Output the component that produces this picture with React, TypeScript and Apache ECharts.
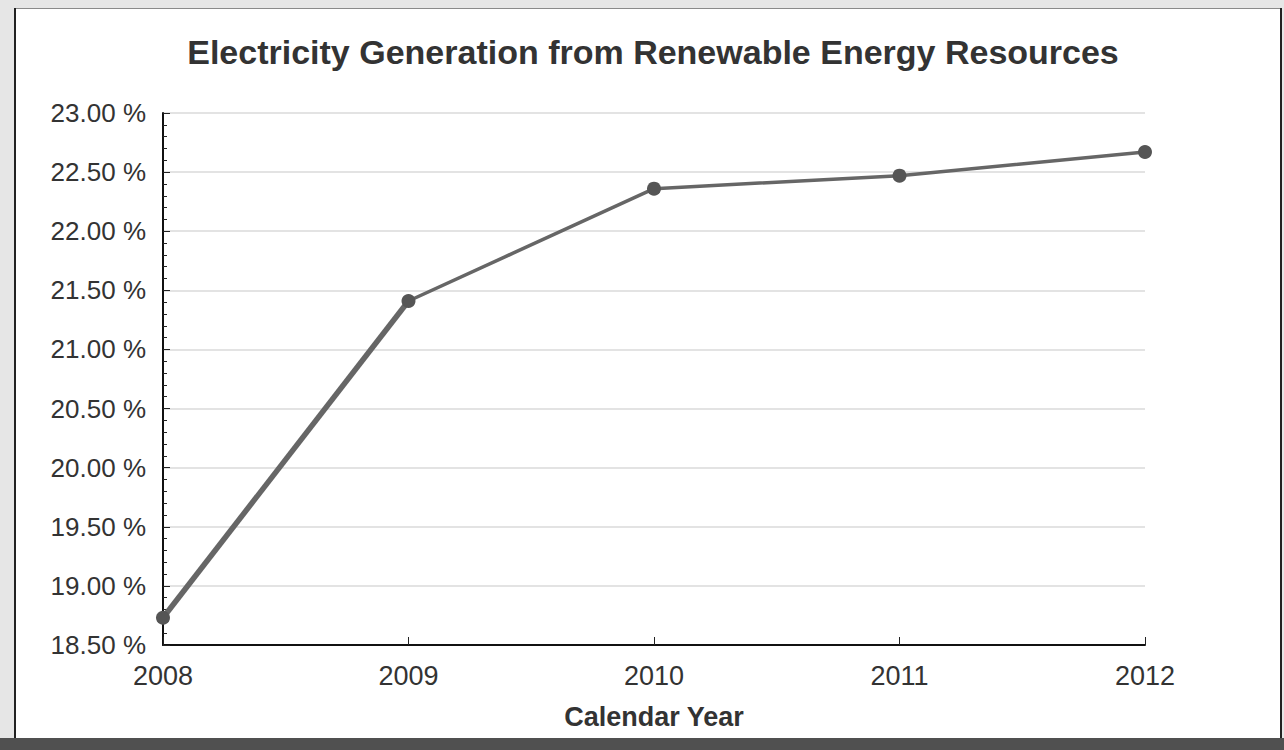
import React, { useEffect, useRef } from 'react';
import * as echarts from 'echarts';

const years: string[] = ['2008', '2009', '2010', '2011', '2012'];
const renewableShare: number[] = [18.73, 21.41, 22.36, 22.47, 22.67];
const yMin = 18.5;
const yMax = 23;
const yStep = 0.5;
const chartTitle = 'Electricity Generation from Renewable Energy Resources';
const xAxisTitle = 'Calendar Year';

export default function App() {
  const ref = useRef<HTMLDivElement>(null);
  useEffect(() => {
    const chart = echarts.init(ref.current!, null, { renderer: 'svg' });
    const font = '"Liberation Sans", Arial, sans-serif';
    // the first segment is drawn thicker in the reference
    const firstSegment = renewableShare.map((v, i) => (i < 2 ? v : null));
    chart.setOption({
      animation: false,
      backgroundColor: '#e6e6e6',
      title: {
        text: chartTitle,
        left: 648,
        top: 30,
        textAlign: 'center',
        textStyle: { fontFamily: font, fontSize: 34, fontWeight: 'bold', color: '#333', lineHeight: 34 },
      },
      grid: { left: 163, right: 139, top: 113, bottom: 105, containLabel: false },
      graphic: [
        { type: 'rect', z: -10, shape: { x: 14, y: 8, width: 1268, height: 730 }, style: { fill: '#ffffff' } },
        { type: 'line', z: -9, shape: { x1: 14, y1: 8.5, x2: 1282, y2: 8.5 }, style: { stroke: '#8a8a8a', lineWidth: 1 } },
        { type: 'line', z: -9, shape: { x1: 15, y1: 8, x2: 15, y2: 738 }, style: { stroke: '#222', lineWidth: 2 } },
        { type: 'line', z: -9, shape: { x1: 1281, y1: 8, x2: 1281, y2: 738 }, style: { stroke: '#222', lineWidth: 2 } },
        { type: 'rect', z: -9, shape: { x: 0, y: 738, width: 1284, height: 12 }, style: { fill: '#505050' } },
        {
          type: 'text', z: 10, x: 654, y: 717,
          style: { text: xAxisTitle, fontFamily: font, fontSize: 27, fontWeight: 'bold', fill: '#333', align: 'center', verticalAlign: 'middle' },
        },
      ],
      xAxis: {
        type: 'category',
        data: years,
        boundaryGap: false,
        axisLine: { show: true, lineStyle: { color: '#111', width: 2 } },
        axisTick: { show: true, inside: true, length: 8, lineStyle: { color: '#222', width: 1 } },
        axisLabel: { margin: 17, fontFamily: font, fontSize: 27, color: '#333' },
        splitLine: { show: false },
      },
      yAxis: {
        type: 'value',
        min: yMin,
        max: yMax,
        interval: yStep,
        axisLine: { show: true, lineStyle: { color: '#111', width: 2 } },
        axisTick: { show: true, inside: true, length: 7, lineStyle: { color: '#222', width: 1 } },
        minorTick: { show: true, splitNumber: 5, length: 4, lineStyle: { color: '#222', width: 1 } },
        axisLabel: {
          margin: 17,
          fontFamily: font,
          fontSize: 26,
          color: '#333',
          formatter: (v: number) => v.toFixed(2) + ' %',
        },
        splitLine: { show: true, lineStyle: { color: '#dadada', width: 1.5 } },
      },
      series: [
        {
          type: 'line',
          data: firstSegment,
          symbol: 'none',
          clip: false,
          lineStyle: { color: '#666', width: 5.5 },
          z: 2,
        },
        {
          type: 'line',
          data: renewableShare,
          symbol: 'circle',
          symbolSize: 14,
          clip: false,
          itemStyle: { color: '#555' },
          lineStyle: { color: '#666', width: 3.5 },
          z: 3,
        },
      ],
    });
    return () => chart.dispose();
  }, []);
  return <div ref={ref} style={{ position: 'absolute', left: 0, top: 0, width: 1284, height: 750 }} />;
}
